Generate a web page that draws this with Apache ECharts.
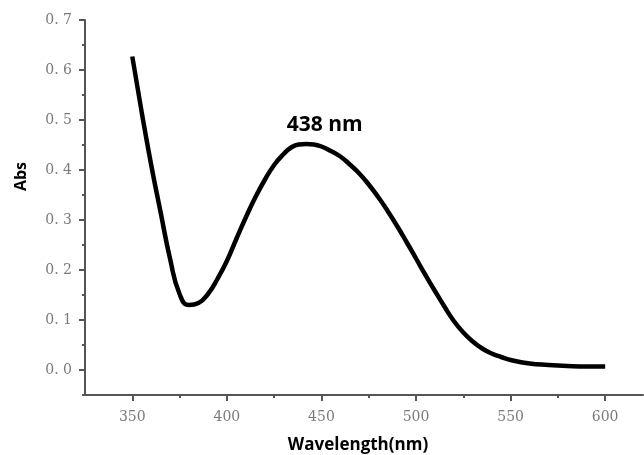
<!DOCTYPE html>
<html>
<head>
<meta charset="utf-8">
<script src="https://cdn.jsdelivr.net/npm/echarts@6/dist/echarts.min.js"></script>
<style>
  html, body { margin: 0; padding: 0; background: #fff; }
  #chart { width: 644px; height: 455px; }
</style>
</head>
<body>
<div id="chart"></div>
<script>
// UV-Vis absorption spectrum
const wavelengths = [350, 355, 360, 365, 370, 375, 380, 385, 390, 395, 400, 405, 410, 415, 420, 425, 430, 434, 438, 442, 446, 450, 455, 460, 465, 470, 475, 480, 485, 490, 495, 500, 505, 510, 515, 520, 525, 530, 535, 540, 545, 550, 560, 570, 580, 590, 600];
const absorbance = [0.627, 0.515, 0.41, 0.315, 0.222, 0.152, 0.13, 0.134, 0.152, 0.182, 0.218, 0.262, 0.305, 0.345, 0.38, 0.41, 0.432, 0.445, 0.451, 0.452, 0.451, 0.447, 0.438, 0.427, 0.411, 0.393, 0.371, 0.346, 0.318, 0.288, 0.256, 0.223, 0.19, 0.158, 0.127, 0.098, 0.075, 0.057, 0.043, 0.033, 0.026, 0.02, 0.013, 0.01, 0.008, 0.007, 0.007];
const peakWavelength = 438;
const peakAbs = 0.451;

const xMajorTicks = [350, 400, 450, 500, 550, 600];
const xMinorTicks = [375, 425, 475, 525, 575];
const yMajorTicks = [0, 0.1, 0.2, 0.3, 0.4, 0.5, 0.6, 0.7];

const points = wavelengths.map((w, i) => [w, absorbance[i]]);

const axisColor = '#555';
const labelStyle = { color: '#7a7a7a', fontFamily: 'DejaVu Serif', fontSize: 14 };

const chart = echarts.init(document.getElementById('chart'));
chart.setOption({
  animation: false,
  backgroundColor: '#fff',
  grid: { left: 85, right: 1, top: 20, bottom: 60, containLabel: false, outerBoundsMode: 'none' },
  xAxis: [
    {
      type: 'value', min: 325, max: 620, position: 'bottom',
      name: 'Wavelength(nm)', nameLocation: 'middle', nameGap: 42,
      nameTextStyle: { fontFamily: 'Open Sans', fontWeight: 'bold', fontSize: 17, color: '#000', padding: [0, 12, 0, 0] },
      axisLine: { show: true, onZero: false, lineStyle: { color: axisColor, width: 2 } },
      axisTick: { show: true, inside: false, length: 6, customValues: xMajorTicks, lineStyle: { color: axisColor, width: 2 } },
      axisLabel: { customValues: xMajorTicks, margin: 15, ...labelStyle },
      splitLine: { show: false }
    },
    {
      type: 'value', min: 325, max: 620, position: 'bottom',
      axisLine: { show: false, onZero: false },
      axisTick: { show: true, length: 3, customValues: xMinorTicks, lineStyle: { color: axisColor, width: 2 } },
      axisLabel: { show: false },
      splitLine: { show: false }
    }
  ],
  yAxis: [
    {
      type: 'value', min: -0.05, max: 0.7, position: 'left',
      name: 'Abs', nameLocation: 'middle', nameGap: 56, nameRotate: 90,
      nameTextStyle: { fontFamily: 'Open Sans', fontWeight: 'bold', fontSize: 16, color: '#000', padding: [0, 0, 0, 62] },
      axisLine: { show: true, onZero: false, lineStyle: { color: axisColor, width: 2 } },
      axisTick: { show: true, length: 6, customValues: yMajorTicks, lineStyle: { color: axisColor, width: 2 } },
      axisLabel: { customValues: yMajorTicks, margin: 13, formatter: v => v.toFixed(1).replace('.', '. '), ...labelStyle },
      splitLine: { show: false }
    },
    {
      type: 'value', min: -0.05, max: 0.7, interval: 0.05, position: 'left',
      axisLine: { show: false, onZero: false },
      axisTick: { show: true, length: 3, lineStyle: { color: axisColor, width: 2 } },
      axisLabel: { show: false },
      splitLine: { show: false }
    }
  ],
  series: [
    {
      type: 'line',
      data: points,
      smooth: 0.5,
      showSymbol: false,
      lineStyle: { color: '#000', width: 4.5 },
      markPoint: {
        symbol: 'circle', symbolSize: 0,
        data: [{ coord: [peakWavelength, peakAbs], value: peakWavelength }],
        label: {
          show: true, position: 'top', offset: [26, -4],
          formatter: p => p.value + ' nm',
          fontFamily: 'Open Sans', fontWeight: 'bold', fontSize: 21, color: '#000'
        }
      }
    }
  ]
});
</script>
</body>
</html>
